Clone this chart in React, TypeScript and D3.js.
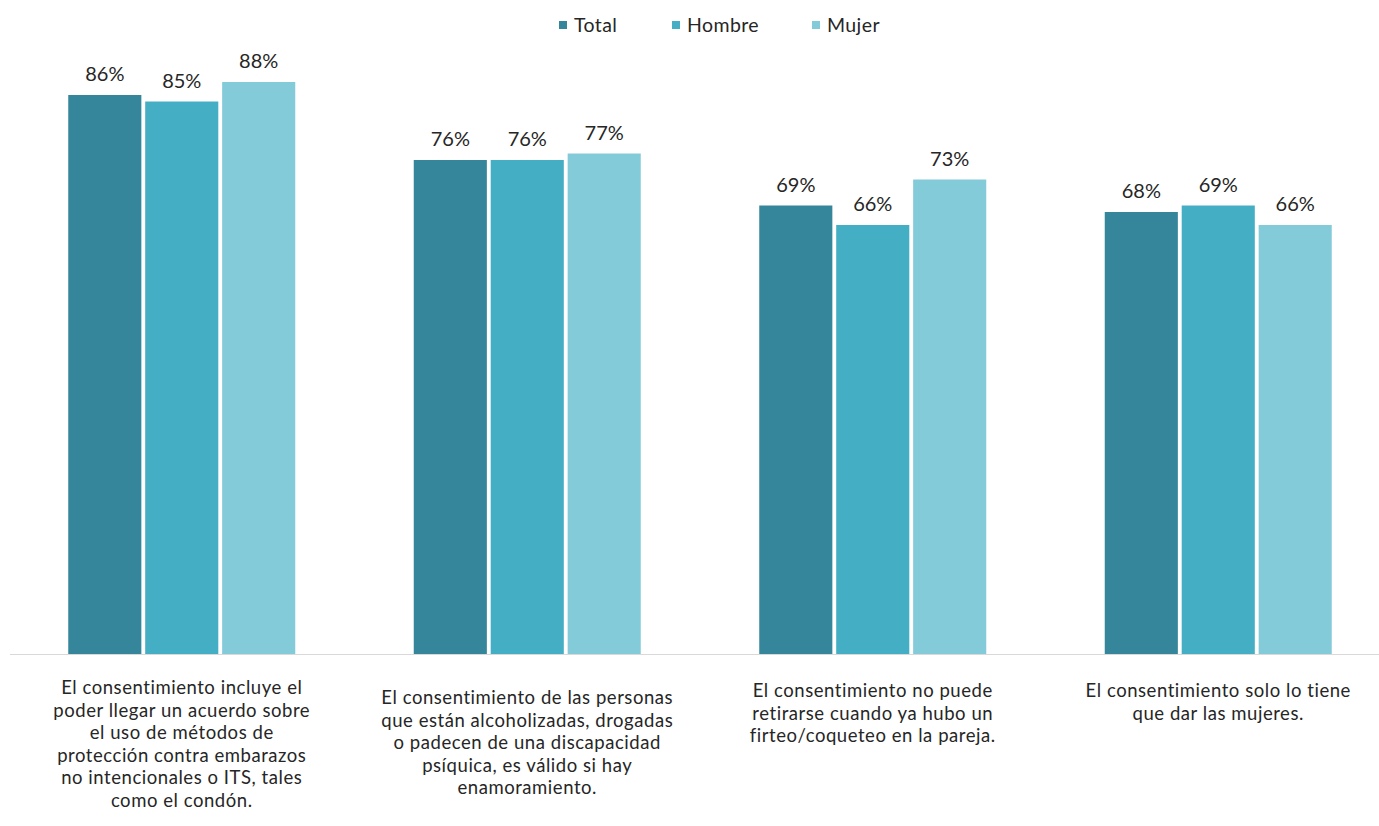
import React, { useEffect } from 'react';
import * as d3 from 'd3';

const categories = [
  ['El consentimiento incluye el', 'poder llegar un acuerdo sobre', 'el uso de métodos de', 'protección contra embarazos', 'no intencionales o ITS, tales', 'como el condón.'],
  ['El consentimiento de las personas', 'que están alcoholizadas, drogadas', 'o padecen de una discapacidad', 'psíquica, es válido si hay', 'enamoramiento.'],
  ['El consentimiento no puede', 'retirarse cuando ya hubo un', 'firteo/coqueteo en la pareja.'],
  ['El consentimiento solo lo tiene', 'que dar las mujeres.'],
];
const series = ['Total', 'Hombre', 'Mujer'];
const totalValues = [86, 76, 69, 68];
const hombreValues = [85, 76, 66, 69];
const mujerValues = [88, 77, 73, 66];
const values = [totalValues, hombreValues, mujerValues];

const colors = ['#35869a', '#44aec5', '#83cbd8'];

// first-line shift of each category label (Excel centres them a bit unevenly)
const labelShift = [0, 10, 3, 3];

const W = 1379;
const H = 826;
const FONT = "Lato, 'Open Sans', sans-serif";
const TEXT = '#262626';

const App: React.FC = () => {
  useEffect(() => {
    document.body.style.margin = '0';
  }, []);

  const x0 = d3.scaleBand<number>()
    .domain(d3.range(categories.length))
    .range([9, 1391])
    .padding(0);

  const x1 = d3.scaleBand<string>()
    .domain(series)
    .range([-113.5, 113.5])
    .paddingInner(0.05);

  const y = d3.scaleLinear().domain([0, 100]).range([654, 4]);

  const legendX = [559, 672, 812];

  return (
    <svg width={W} height={H} style={{ display: 'block', background: '#fff' }}>
      {/* legend */}
      {series.map((s, i) => (
        <g key={s} transform={`translate(${legendX[i]},25)`}>
          <rect x={0} y={-4} width={8} height={8} fill={colors[i]} />
          <text x={15} dy="0.35em" fontFamily={FONT} fontSize={19.5} letterSpacing={0.4} fill={TEXT}>{s}</text>
        </g>
      ))}

      {/* bars */}
      {categories.map((_, ci) => {
        const cx = x0(ci)! + x0.bandwidth() / 2;
        return (
          <g key={ci} transform={`translate(${cx},0)`}>
            {series.map((s, si) => {
              const v = values[si][ci];
              const bx = x1(s)!;
              return (
                <g key={s}>
                  <rect x={bx} y={y(v)} width={x1.bandwidth()} height={y(0) - y(v)} fill={colors[si]} />
                  <text x={bx + x1.bandwidth() / 2} y={y(v) - 14} textAnchor="middle"
                    fontFamily={FONT} fontSize={20} fill={TEXT}>{v}%</text>
                </g>
              );
            })}
          </g>
        );
      })}

      {/* axis line */}
      <line x1={10} x2={W} y1={y(0) + 0.5} y2={y(0) + 0.5} stroke="#d9d9d9" strokeWidth={1} />

      {/* category labels */}
      {categories.map((lines, ci) => {
        const cx = x0(ci)! + x0.bandwidth() / 2;
        return (
          <text key={ci} x={cx} y={694 + labelShift[ci]} textAnchor="middle"
            fontFamily={FONT} fontSize={18.5} letterSpacing={0.55} fill={TEXT}>
            {lines.map((l, li) => (
              <tspan key={li} x={cx} dy={li === 0 ? 0 : 22.5}>{l}</tspan>
            ))}
          </text>
        );
      })}
    </svg>
  );
};

export default App;
